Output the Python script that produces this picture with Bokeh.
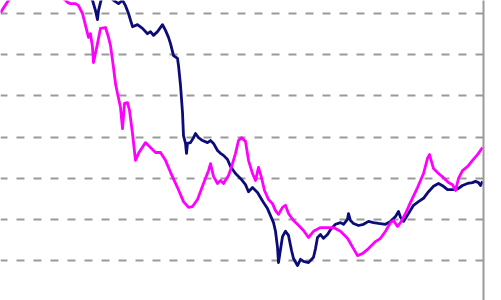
from bokeh.plotting import figure
from bokeh.models import LinearAxis, Range1d, FixedTicker
from bokeh.embed import file_html
from bokeh.resources import INLINE

# Day index (x) and index level (y) for the two series
pink_x = [0, 8, 15, 30, 45, 58, 65, 67, 70, 75, 78, 82, 85, 88, 90, 92, 93, 97, 100, 105,
          108, 110, 113, 115, 117, 120, 122, 124, 127, 129, 132, 135, 138, 145, 150, 155, 160, 165, 170, 177,
          183, 188, 192, 197, 203, 208, 210, 213, 217, 220, 223, 228, 232, 235, 238, 241, 245, 248, 252, 255,
          258, 261, 264, 268, 272, 275, 278, 282, 285, 288, 293, 297, 303, 308, 313, 320, 327, 333, 340, 347,
          353, 357, 362, 368, 375, 380, 385, 390, 393, 397, 400, 405, 410, 417, 423, 427, 429, 433, 438, 443,
          448, 452, 455, 458, 462, 467, 472, 477, 482]
pink_y = [70.2, 73.2, 75.6, 78.0, 76.8, 74.4, 73.2, 72.7, 72.4, 72.4, 71.9, 70.0, 67.1, 64.2, 65.1, 61.8, 58.1, 62.7, 66.4, 66.6,
          64.2, 62.2, 56.9, 53.0, 50.6, 47.2, 42.1, 48.2, 48.4, 46.5, 40.9, 34.4, 36.1, 38.7, 37.5, 36.3, 36.3, 34.4, 31.5, 27.8,
          24.4, 23.0, 23.2, 24.9, 28.8, 31.9, 33.6, 30.5, 28.8, 29.5, 28.8, 30.7, 33.6, 36.1, 39.2, 39.9, 39.0, 34.4, 31.2, 29.5,
          32.7, 30.2, 27.1, 24.9, 23.9, 22.2, 21.3, 23.0, 23.5, 21.5, 19.8, 18.9, 17.4, 15.7, 17.2, 18.1, 18.1, 18.1, 17.2, 15.5,
          13.0, 11.3, 11.8, 13.0, 14.7, 15.5, 17.2, 19.3, 19.8, 18.4, 19.3, 21.5, 24.2, 27.8, 31.2, 34.9, 35.8, 32.4, 31.2, 30.2,
          29.0, 28.5, 27.1, 30.0, 31.9, 32.9, 34.4, 35.8, 37.5]

navy_x = [0, 20, 40, 60, 75, 88, 92, 95, 97, 98, 100, 103, 108, 113, 118, 122, 125, 128, 132, 137,
          142, 147, 150, 153, 157, 162, 165, 168, 170, 173, 177, 178, 180, 182, 183, 185, 186, 187, 190, 193,
          195, 198, 202, 207, 210, 213, 217, 220, 223, 227, 230, 235, 240, 245, 248, 252, 257, 260, 263, 267,
          270, 273, 275, 277, 278, 280, 282, 285, 288, 291, 293, 297, 300, 303, 308, 313, 315, 317, 320, 323,
          327, 330, 335, 340, 343, 347, 348, 350, 353, 358, 363, 368, 373, 378, 385, 390, 395, 398, 400, 403,
          408, 413, 418, 423, 428, 433, 438, 443, 447, 450, 455, 458, 462, 467, 472, 475, 478, 480, 482]
navy_y = [82.8, 85.3, 81.6, 80.4, 76.8, 74.4, 73.2, 70.7, 68.5, 70.7, 72.7, 75.1, 74.4, 73.2, 72.4, 73.2, 71.9, 70.0, 66.8, 67.3,
          66.4, 65.1, 65.6, 64.7, 65.6, 67.3, 65.9, 64.2, 62.7, 59.8, 59.1, 57.4, 52.6, 46.0, 40.4, 38.5, 36.1, 38.5, 38.7, 39.9,
          40.9, 39.9, 39.2, 38.7, 39.2, 38.5, 36.8, 36.1, 35.6, 34.6, 32.9, 31.2, 30.0, 28.5, 26.8, 27.8, 26.6, 25.4, 24.2, 22.7,
          21.0, 19.3, 17.2, 13.3, 9.6, 12.8, 15.9, 17.2, 16.2, 12.6, 10.6, 8.9, 10.4, 9.9, 9.6, 10.9, 13.0, 15.7, 16.4, 15.5,
          16.4, 17.6, 18.9, 19.3, 18.9, 20.1, 21.5, 19.8, 19.1, 18.6, 18.9, 19.6, 19.3, 19.1, 18.9, 19.6, 20.8, 22.0, 20.6, 19.6,
          21.5, 23.5, 24.4, 25.2, 26.8, 28.1, 28.8, 28.1, 27.3, 27.3, 27.3, 27.6, 28.3, 28.8, 29.0, 29.3, 29.0, 28.3, 29.3]

grid_ticks = [10, 20, 30, 40, 50, 60, 70]

p = figure(frame_width=483, frame_height=300, output_backend="svg", toolbar_location=None,
           x_range=Range1d(0, 483), y_range=Range1d(0.42, 73.15),
           x_axis_location=None, y_axis_location=None,
           min_border_left=0, min_border_top=0, min_border_bottom=0, min_border_right=18)
p.outline_line_color = None
p.background_fill_color = "white"
p.border_fill_color = "white"
p.xgrid.visible = False
p.ygrid.ticker = FixedTicker(ticks=grid_ticks)
p.ygrid.grid_line_color = "#9a9a9a"
p.ygrid.grid_line_width = 2
p.ygrid.grid_line_dash = "8 9"
p.ygrid.grid_line_dash_offset = 1

# right-hand frame line only (no ticks, no labels)
ax = LinearAxis(ticker=FixedTicker(ticks=[]))
ax.major_tick_line_color = None
ax.minor_tick_line_color = None
ax.major_label_text_color = None
ax.axis_line_color = "#9a9a9a"
ax.axis_line_width = 2
p.add_layout(ax, "right")

p.line(navy_x, navy_y, line_color="#0c0c78", line_width=2.8, line_join="round")
p.line(pink_x, pink_y, line_color="#ff00ff", line_width=2.8, line_join="round")

open("out.html", "w").write(file_html(p, INLINE))
